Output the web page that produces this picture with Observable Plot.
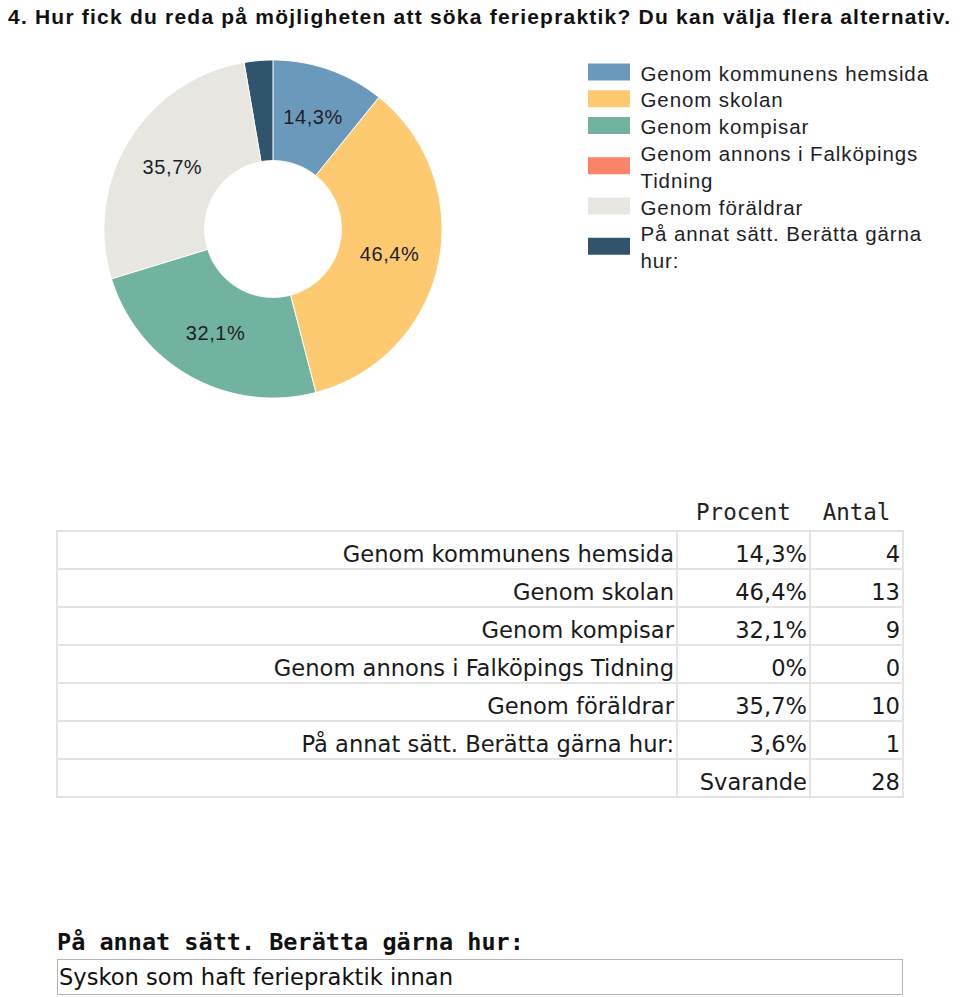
<!DOCTYPE html>
<html>
<head>
<meta charset="utf-8">
<script src="https://cdn.jsdelivr.net/npm/d3@7"></script>
<script src="https://cdn.jsdelivr.net/npm/@observablehq/plot@0.6"></script>
<style>
  html, body { margin: 0; padding: 0; background: #fff; }
  #page { position: relative; width: 960px; height: 997px; overflow: hidden; }
  #title { position: absolute; left: 8px; top: 7px; font: bold 21px "Liberation Sans", Arial, sans-serif; line-height: 20px; color: #111; white-space: nowrap; }
  #donut { position: absolute; left: 0; top: 40px; }
  #legend { position: absolute; left: 580px; top: 55px; }
  #tbl { position: absolute; left: 56px; top: 492px; border-collapse: collapse; table-layout: fixed; width: 848px; }
  #tbl th { font: 22.5px "DejaVu Sans Mono", monospace; line-height: 27px; font-weight: normal; color: #222; text-align: center; padding: 7px 0 4px 0; border: none; }
  #tbl td { font: 22.6px "DejaVu Sans", sans-serif; line-height: 27px; border: 2px solid #e4e4e4; padding: 9px 2px 0 2px; text-align: right; color: #1a1a1a; white-space: nowrap; }
  #otherLabel { position: absolute; left: 57px; top: 928px; font: bold 23.5px "DejaVu Sans Mono", monospace; line-height: 28px; color: #111; white-space: nowrap; }
  #otherBox { position: absolute; left: 57px; top: 959px; width: 846px; height: 36px; box-sizing: border-box; border: 1px solid #b4b4b4; font: 22.6px "DejaVu Sans", sans-serif; line-height: 34px; padding-left: 1px; color: #111; white-space: nowrap; }
</style>
</head>
<body>
<div id="page">
  <div id="title"></div>
  <div id="donut"></div>
  <div id="legend"></div>
  <table id="tbl"></table>
  <div id="otherLabel"></div>
  <div id="otherBox"></div>
</div>
<script>
// ---- data ----
const titleText = "4. Hur fick du reda på möjligheten att söka feriepraktik? Du kan välja flera alternativ.";
const categories = [
  "Genom kommunens hemsida",
  "Genom skolan",
  "Genom kompisar",
  "Genom annons i Falköpings Tidning",
  "Genom föräldrar",
  "På annat sätt. Berätta gärna hur:"
];
const legendLabels = [
  "Genom kommunens hemsida",
  "Genom skolan",
  "Genom kompisar",
  "Genom annons i Falköpings\nTidning",
  "Genom föräldrar",
  "På annat sätt. Berätta gärna\nhur:"
];
const percentLabels = ["14,3%", "46,4%", "32,1%", "0%", "35,7%", "3,6%"];
const counts = [4, 13, 9, 0, 10, 1];
const tableHeaders = ["Procent", "Antal"];
const respondentsLabel = "Svarande";
const respondents = 28;
const otherQuestion = "På annat sätt. Berätta gärna hur:";
const otherAnswers = ["Syskon som haft feriepraktik innan"];
const sliceColors = ["#6b99bc", "#fdc971", "#71b3a0", "#f98467", "#e8e6e0", "#30546b"];

// ---- title ----
const titleEl = document.getElementById("title");
titleEl.textContent = titleText;
{
  const w = titleEl.getBoundingClientRect().width;
  const n = titleText.length;
  titleEl.style.letterSpacing = ((942 - w) / (n - 1)) + "px";
}

// ---- donut ----
const records = categories.map((c, i) => ({cat: c, count: counts[i], pct: percentLabels[i]}));
const arcs = d3.pie().sort(null).value(d => d.count)(records);
const inner = 0.405;
const rows = [];
const labels = [];
for (const a of arcs) {
  if (a.endAngle <= a.startAngle) continue;
  const n = Math.max(2, Math.ceil((a.endAngle - a.startAngle) / 0.01));
  for (let i = 0; i <= n; i++) {
    const t = a.startAngle + (a.endAngle - a.startAngle) * i / n;
    rows.push({cat: a.data.cat, xo: Math.sin(t), yo: Math.cos(t), xi: inner * Math.sin(t), yi: inner * Math.cos(t)});
  }
  if (a.endAngle - a.startAngle > 0.3) {
    const m = (a.startAngle + a.endAngle) / 2, r = (1 + inner) / 2;
    labels.push({x: r * Math.sin(m), y: r * Math.cos(m), text: a.data.pct});
  }
}
const colorScale = {domain: categories, range: sliceColors};

const donut = Plot.plot({
  width: 560, height: 400, margin: 0,
  style: {background: "transparent", letterSpacing: "0.6px"},
  x: {domain: [-1, 1], range: [104, 442], axis: null},
  y: {domain: [-1, 1], range: [358, 20], axis: null},
  color: colorScale,
  marks: [
    Plot.area(rows, {x1: "xo", y1: "yo", x2: "xi", y2: "yi", z: "cat", fill: "cat", stroke: "white", strokeWidth: 1, curve: "linear"}),
    Plot.text(labels, {x: "x", y: "y", text: "text", fontSize: 20, fontFamily: "Liberation Sans, Arial, sans-serif", fill: "#1e1e28"})
  ]
});
document.getElementById("donut").append(donut);

// ---- legend ----
let line = 0;
const legendRows = categories.map((c, i) => {
  const nl = legendLabels[i].split("\n").length;
  const r = {cat: c, label: legendLabels[i], center: line + (nl - 1) / 2};
  line += nl;
  return r;
});
const legend = Plot.plot({
  width: 380, height: 240, margin: 0,
  style: {background: "transparent", letterSpacing: "0.9px"},
  x: {domain: [0, 1], range: [8, 50], axis: null},
  y: {domain: [0, 8], range: [16.5, 230.9], axis: null},
  color: colorScale,
  marks: [
    Plot.ruleY(legendRows, {y: "center", x1: 0, x2: 1, stroke: "cat", strokeWidth: 17}),
    Plot.text(legendRows, {x: 1, y: "center", text: "label", textAnchor: "start", dx: 10, dy: 0, fontSize: 20.5, lineHeight: 1.307, fontFamily: "Liberation Sans, Arial, sans-serif", fill: "#1e1e28"})
  ]
});
document.getElementById("legend").append(legend);

// ---- table ----
const tbl = document.getElementById("tbl");
let html = '<colgroup><col style="width:620px"><col style="width:133px"><col style="width:93px"></colgroup>';
html += "<tr><th></th>" + tableHeaders.map(h => `<th>${h}</th>`).join("") + "</tr>";
categories.forEach((c, i) => {
  html += `<tr><td>${c}</td><td>${percentLabels[i]}</td><td>${counts[i]}</td></tr>`;
});
html += `<tr><td></td><td>${respondentsLabel}</td><td>${respondents}</td></tr>`;
tbl.innerHTML = html;

document.getElementById("otherLabel").textContent = otherQuestion;
document.getElementById("otherBox").textContent = otherAnswers[0];
</script>
</body>
</html>
